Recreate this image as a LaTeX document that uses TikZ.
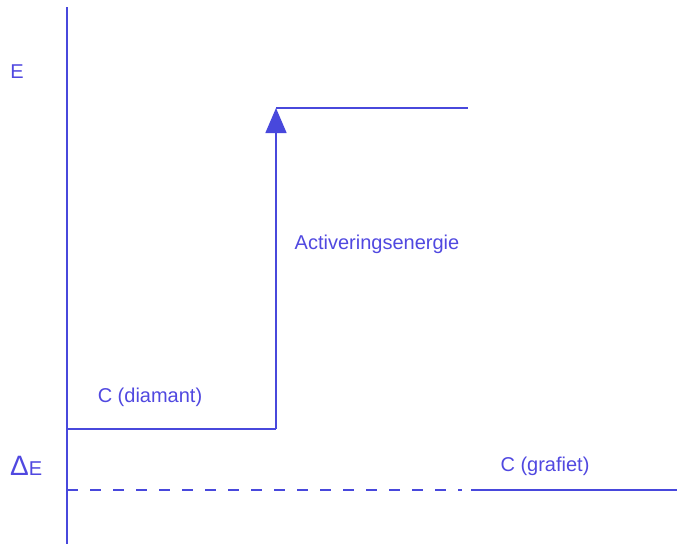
\documentclass[tikz,border=0pt]{standalone}
\usepackage{fontspec}
\setmainfont{Liberation Sans}
\usetikzlibrary{arrows.meta}
\definecolor{lineblue}{RGB}{72,72,220}
\definecolor{textblue}{RGB}{80,72,224}
\begin{document}
\begin{tikzpicture}[x=1pt,y=-1pt,
  line/.style={draw=lineblue,line width=1.5pt},
  lbl/.style={text=textblue,font=\fontsize{20}{23}\selectfont,inner sep=0pt},
  dashline/.style={line,dash pattern=on 11pt off 12pt}]
\useasboundingbox (0,0) rectangle (677,544);
\coordinate (axtop) at (67,7);
\coordinate (axbot) at (67,544);
\coordinate (dleft) at (67,429);
\coordinate (dcorner) at (276,429);
\coordinate (peak) at (276,108);
\coordinate (peakright) at (468,108);
\coordinate (gleft) at (67,490);
\coordinate (gdashend) at (462,490);
\coordinate (gsolid) at (471,490);
\coordinate (gright) at (677,490);
\node[lbl] (E) at (17,72) {E};
\node[lbl] (act) at (377,244) {Activeringsenergie};
\node[lbl] (diam) at (150,397) {C (diamant)};
\node[lbl,anchor=base west] (dE) at (10,475) {{\fontsize{28}{28}\selectfont Δ}E};
\node[lbl] (graf) at (545,466) {C (grafiet)};
\draw[line] (axtop) -- (axbot);
\draw[line] (dleft) -- (dcorner);
\draw[line,-{Triangle[length=25pt,width=21pt]}] (dcorner) -- (peak);
\draw[line] (peak) -- (peakright);
\draw[dashline] (gleft) -- (gdashend);
\draw[line] (gsolid) -- (gright);
\end{tikzpicture}
\end{document}
